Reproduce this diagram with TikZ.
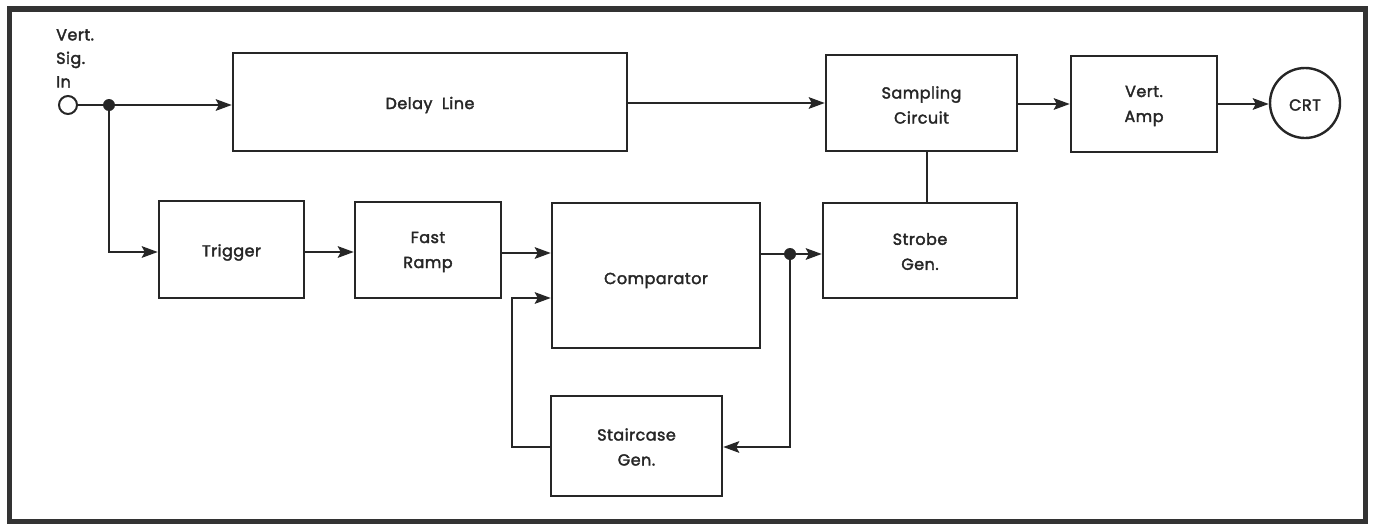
\documentclass[tikz,border=0pt]{standalone}
\usepackage{fontspec}
\setmainfont{Poppins}[LetterSpace=3,FakeBold=2.2]
\usetikzlibrary{arrows.meta}
\definecolor{ink}{HTML}{262626}
\definecolor{frame}{HTML}{333333}
\tikzset{
  box/.style={draw=ink, line width=2.4pt, rectangle, inner sep=0pt},
  txt/.style={align=center, text=ink, font=\fontsize{16}{25}\selectfont, inner sep=0pt},
  conn/.style={draw=ink, line width=2.4pt},
  arr/.style={conn, -{Stealth[length=16pt,width=11.5pt,inset=3pt]}},
  dot/.style={circle, fill=ink, inner sep=0pt, minimum size=12pt},
  lbl/.style={text=ink, align=left, font=\fontsize{16}{23.5}\selectfont, inner sep=0pt}
}
\begin{document}
\begin{tikzpicture}[x=1pt,y=-1pt]
\useasboundingbox (0,0) rectangle (1375,525);
\draw[frame, line width=5.5pt] (9.5,9) rectangle (1365.5,521.5);
% input
\node[circle, draw=ink, line width=2pt, minimum size=18pt, inner sep=0pt] (in) at (68,105) {};
\node[lbl, anchor=north west] (inl) at (56,29) {Vert.\\Sig.\\In};
\node[dot] (j1) at (109,105) {};
% boxes
\node[box, minimum width=394pt, minimum height=98pt] (delay) at (430,102) {};
\node[txt] at ([yshift=-3pt]delay.center) {Delay\ \ Line};
\node[box, minimum width=191pt, minimum height=96pt] (samp) at (921.5,103) {};
\node[txt] at ([yshift=-2pt]samp.center) {Sampling\\Circuit};
\node[box, minimum width=146pt, minimum height=96pt] (vamp) at (1144,104) {};
\node[txt] at ([yshift=-2pt]vamp.center) {Vert.\\Amp};
\node[circle, draw=ink, line width=2.4pt, minimum size=70pt, inner sep=0pt] (crt) at (1305,103) {};
\node[txt] at ([yshift=-2pt]crt.center) {CRT};
\node[box, minimum width=145pt, minimum height=97pt] (trig) at (231.5,249.5) {};
\node[txt] at ([yshift=-3pt]trig.center) {Trigger};
\node[box, minimum width=146pt, minimum height=96pt] (ramp) at (428,250) {};
\node[txt] at ([yshift=-2pt]ramp.center) {Fast\\Ramp};
\node[box, minimum width=208pt, minimum height=145pt] (comp) at (656,275.5) {};
\node[txt] at ([yshift=-5pt]comp.center) {Comparator};
\node[box, minimum width=194pt, minimum height=95pt] (strobe) at (920,250.5) {};
\node[txt] at ([yshift=-1pt]strobe.center) {Strobe\\Gen.};
\node[box, minimum width=171pt, minimum height=100pt] (stair) at (636.5,446) {};
\node[txt] at ([yshift=-1pt]stair.center) {Staircase\\Gen.};
\node[dot] (j2) at (790,254) {};
% connectors
\draw[conn] (in.east) -- (j1);
\draw[arr] (j1) -- (delay.west |- j1);
\draw[arr] (j1) |- (trig.west |- 0,252);
\draw[arr] (delay.east |- 0,103) -- (samp.west |- 0,103);
\draw[arr] (samp.east |- 0,104) -- (vamp.west |- 0,104);
\draw[arr] (vamp.east |- 0,104) -- (crt.west |- 0,104);
\draw[arr] (trig.east |- 0,252) -- (ramp.west |- 0,252);
\draw[arr] (ramp.east |- 0,253) -- (comp.west |- 0,253);
\draw[conn] (comp.east |- j2) -- (j2);
\draw[arr] (j2) -- (strobe.west |- j2);
\draw[arr] (j2) |- (stair.east |- 0,447);
\coordinate (fb) at (512,298);
\draw[arr] (stair.west |- 0,447) -| (fb) -- (comp.west |- fb);
\draw[conn] (927,0 |- samp.south) -- (927,0 |- strobe.north);
\end{tikzpicture}
\end{document}
